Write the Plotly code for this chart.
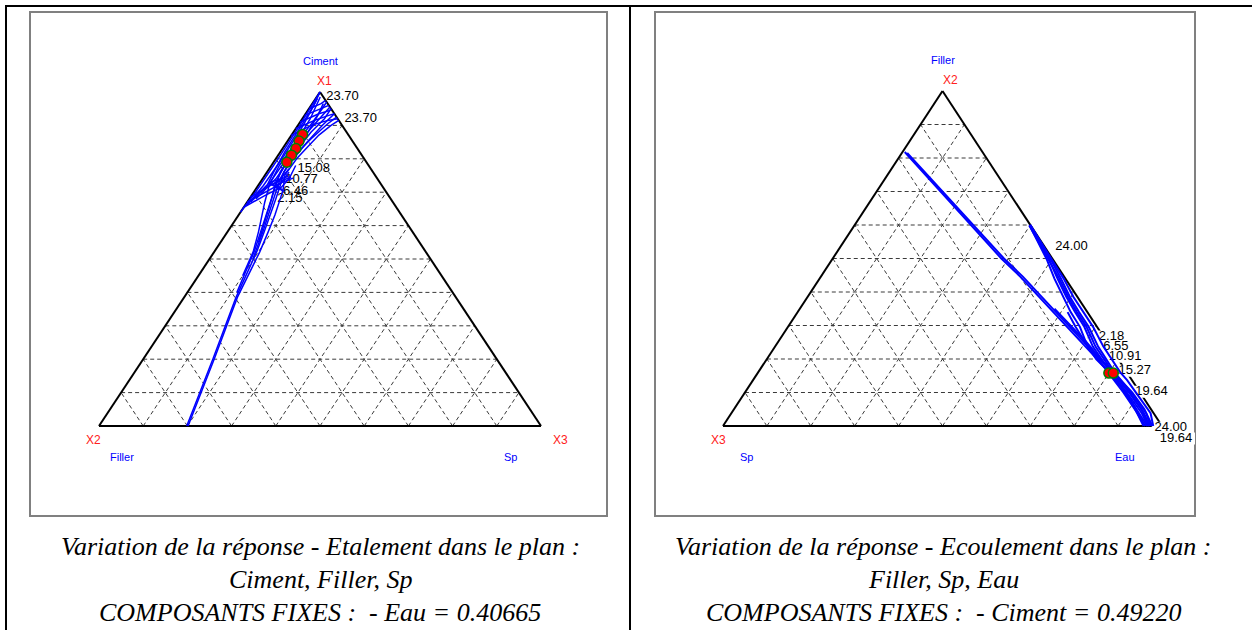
import plotly.graph_objects as go

W, H = 1252, 630

# ---------------------------------------------------------------
# Panel 1 : Etalement  (sommet = Ciment, gauche = Filler, droite = Sp)
# contour curves as (Ciment, Sp) pairs, Filler = 1 - Ciment - Sp
# ---------------------------------------------------------------
etal_vertices = ["X1", "X2", "X3"]
etal_names = ["Ciment", "Filler", "Sp"]

etal_long_a = [(0.000, 0.2015), (0.200, 0.1605), (0.385, 0.1205), (0.522, 0.103), (0.582, 0.092),
               (0.632, 0.082), (0.680, 0.070), (0.707, 0.063), (0.751, 0.045), (0.801, 0.047),
               (0.840, 0.055), (0.871, 0.062), (0.900, 0.075), (0.915, 0.085)]
etal_long_b = [(0.000, 0.1985), (0.200, 0.1575), (0.385, 0.1175), (0.522, 0.096), (0.582, 0.083),
               (0.632, 0.072), (0.680, 0.060), (0.720, 0.050), (0.760, 0.038), (0.801, 0.040),
               (0.850, 0.046), (0.900, 0.055), (0.935, 0.065)]
etal_band_c = [(0.400, 0.112), (0.522, 0.090), (0.582, 0.075), (0.632, 0.062), (0.680, 0.050),
               (0.730, 0.035), (0.780, 0.030), (0.830, 0.035), (0.880, 0.040), (0.920, 0.050),
               (0.950, 0.050)]
etal_band_d = [(0.450, 0.100), (0.522, 0.088), (0.582, 0.070), (0.632, 0.052), (0.670, 0.040),
               (0.720, 0.025), (0.780, 0.018), (0.840, 0.020), (0.900, 0.028), (0.950, 0.030),
               (0.970, 0.030)]
etal_band_e = [(0.500, 0.098), (0.582, 0.080), (0.632, 0.067), (0.690, 0.052), (0.740, 0.040),
               (0.800, 0.035), (0.860, 0.050), (0.905, 0.065), (0.925, 0.075)]
etal_band_f = [(0.550, 0.086), (0.600, 0.072), (0.650, 0.058), (0.700, 0.045), (0.760, 0.030),
               (0.820, 0.028), (0.870, 0.030), (0.920, 0.040), (0.955, 0.045)]
etal_edge_1 = [(0.653, 0.000), (0.690, 0.010), (0.722, 0.020), (0.760, 0.015), (0.820, 0.010),
               (0.900, 0.008), (0.960, 0.006), (1.000, 0.000)]
etal_edge_2 = [(0.640, 0.000), (0.700, 0.004), (0.800, 0.005), (0.900, 0.004), (1.000, 0.000)]
etal_edge_3 = [(0.660, 0.004), (0.720, 0.012), (0.800, 0.014), (0.900, 0.012), (0.980, 0.004)]
etal_edge_4 = [(0.670, 0.008), (0.730, 0.022), (0.790, 0.024), (0.850, 0.022), (0.920, 0.018),
               (0.985, 0.008)]
etal_edge_5 = [(0.680, 0.015), (0.740, 0.030), (0.800, 0.032), (0.860, 0.034), (0.930, 0.030),
               (0.965, 0.025)]
etal_fan_1 = [(0.655, 0.000), (0.690, 0.030), (0.715, 0.055), (0.740, 0.060), (0.780, 0.055)]
etal_fan_2 = [(0.670, 0.000), (0.700, 0.025), (0.725, 0.048), (0.760, 0.050)]
etal_fan_3 = [(0.685, 0.000), (0.710, 0.020), (0.735, 0.040), (0.770, 0.045)]
etal_chevron_1 = [(0.748, 0.055), (0.728, 0.020), (0.708, 0.055)]
etal_chevron_2 = [(0.745, 0.062), (0.725, 0.030), (0.705, 0.062)]
etal_chevron_3 = [(0.742, 0.068), (0.722, 0.040), (0.702, 0.068)]
etal_top_1 = [(0.870, 0.000), (0.900, 0.030), (0.915, 0.060), (0.920, 0.080)]
etal_top_2 = [(0.890, 0.000), (0.915, 0.030), (0.930, 0.055), (0.935, 0.065)]
etal_top_3 = [(0.910, 0.000), (0.935, 0.030), (0.945, 0.050), (0.950, 0.050)]
etal_top_4 = [(0.930, 0.000), (0.950, 0.025), (0.960, 0.040)]
etal_top_5 = [(0.950, 0.000), (0.965, 0.020), (0.975, 0.025)]

etal_contours = [etal_long_a, etal_long_b, etal_band_c, etal_band_d, etal_band_e, etal_band_f,
                 etal_edge_1, etal_edge_2, etal_edge_3, etal_edge_4, etal_edge_5,
                 etal_fan_1, etal_fan_2, etal_fan_3,
                 etal_chevron_1, etal_chevron_2, etal_chevron_3,
                 etal_top_1, etal_top_2, etal_top_3, etal_top_4, etal_top_5]

etal_opt_ciment = [0.873, 0.853, 0.831, 0.811, 0.790]
etal_opt_sp = [0.024, 0.026, 0.030, 0.030, 0.030]

etal_levels = ["23.70", "23.70", "15.08", "10.77", "6.46", "2.15"]
etal_level_x = [0.551, 0.592, 0.486, 0.458, 0.445, 0.432]
etal_level_y = [0.986, 0.921, 0.769, 0.736, 0.702, 0.680]

# ---------------------------------------------------------------
# Panel 2 : Ecoulement  (sommet = Filler, gauche = Sp, droite = Eau)
# contour curves as (Filler, Eau) pairs, Sp = 1 - Filler - Eau
# ---------------------------------------------------------------
ecoul_vertices = ["X2", "X3", ""]
ecoul_names = ["Filler", "Sp", "Eau"]

ecoul_long_1 = [(0.818, 0.005), (0.700, 0.145), (0.600, 0.265), (0.500, 0.384), (0.446, 0.454),
                (0.350, 0.570), (0.250, 0.690), (0.158, 0.803), (0.100, 0.868), (0.050, 0.918),
                (0.000, 0.966)]
ecoul_long_2 = [(0.815, 0.012), (0.700, 0.150), (0.600, 0.271), (0.500, 0.390), (0.446, 0.460),
                (0.350, 0.576), (0.250, 0.697), (0.158, 0.809), (0.100, 0.876), (0.050, 0.928),
                (0.000, 0.972)]
ecoul_long_3 = [(0.350, 0.580), (0.300, 0.642), (0.250, 0.703), (0.200, 0.760), (0.158, 0.812),
                (0.100, 0.882), (0.050, 0.935), (0.000, 0.978)]
ecoul_band_1 = [(0.600, 0.398), (0.550, 0.443), (0.496, 0.490), (0.440, 0.535), (0.386, 0.581),
                (0.340, 0.622), (0.296, 0.665), (0.237, 0.712), (0.190, 0.765), (0.160, 0.797),
                (0.100, 0.862), (0.038, 0.925), (0.000, 0.962)]
ecoul_band_2 = [(0.600, 0.399), (0.550, 0.446), (0.496, 0.495), (0.440, 0.542), (0.386, 0.589),
                (0.340, 0.632), (0.296, 0.675), (0.237, 0.724), (0.190, 0.772), (0.160, 0.803),
                (0.100, 0.870), (0.038, 0.935), (0.000, 0.968)]
ecoul_band_3 = [(0.600, 0.400), (0.550, 0.448), (0.496, 0.499), (0.440, 0.550), (0.386, 0.597),
                (0.340, 0.641), (0.296, 0.685), (0.237, 0.736), (0.190, 0.782), (0.160, 0.812),
                (0.100, 0.880), (0.038, 0.945), (0.000, 0.974)]
ecoul_band_4 = [(0.600, 0.400), (0.550, 0.449), (0.496, 0.502), (0.440, 0.556), (0.386, 0.605),
                (0.340, 0.650), (0.296, 0.695), (0.237, 0.748), (0.190, 0.795), (0.160, 0.825),
                (0.137, 0.852), (0.100, 0.890), (0.038, 0.955), (0.000, 0.980)]
ecoul_band_5 = [(0.598, 0.399), (0.550, 0.444), (0.496, 0.493), (0.440, 0.546), (0.386, 0.593),
                (0.340, 0.636), (0.296, 0.680), (0.237, 0.730), (0.190, 0.778), (0.160, 0.808),
                (0.100, 0.875), (0.038, 0.940), (0.000, 0.971)]
ecoul_band_6 = [(0.340, 0.615), (0.296, 0.655), (0.250, 0.700), (0.200, 0.750), (0.160, 0.800),
                (0.120, 0.845), (0.060, 0.905), (0.000, 0.958)]

ecoul_contours = [ecoul_long_1, ecoul_long_2, ecoul_long_3, ecoul_band_1, ecoul_band_2,
                  ecoul_band_3, ecoul_band_4, ecoul_band_5, ecoul_band_6]

ecoul_opt_filler = [0.158, 0.158]
ecoul_opt_eau = [0.800, 0.810]

ecoul_levels = ["24.00", "2.18", "6.55", "10.91", "15.27", "19.64", "24.00", "19.64"]
ecoul_level_x = [0.794, 0.885, 0.895, 0.916, 0.938, 0.976, 1.020, 1.032]
ecoul_level_y = [0.534, 0.267, 0.237, 0.207, 0.165, 0.102, -0.005, -0.037]
ecoul_masked = [False, True, True, True, True, True, True, True]

captions_left = ["Variation de la réponse - Etalement dans le plan :",
                 "Ciment, Filler, Sp",
                 "COMPOSANTS FIXES :  - Eau = 0.40665"]
captions_right = ["Variation de la réponse - Ecoulement dans le plan :",
                  "Filler, Sp, Eau",
                  "COMPOSANTS FIXES :  - Ciment = 0.49220"]

SANS = "Liberation Sans, Arial, sans-serif"
SERIF = "Liberation Serif, Times New Roman, serif"
BLUE = "#0000ff"


def tern_xy(top, right):
    """Barycentric (top, right) -> panel coordinates: base 0..1, apex at (0.5, 1)."""
    return 0.5 * top + right, top


def px_x(p):
    return p / W


def px_y(p):
    return 1 - p / H


fig = go.Figure()
shapes = []
annotations = []

panels = [
    dict(ax="x", ay="y", box=(30, 12, 607, 516), tri=(99, 541, 426, 92),
         contours=etal_contours, opt=(etal_opt_ciment, etal_opt_sp), lw=1.5,
         levels=(etal_levels, etal_level_x, etal_level_y, [False] * len(etal_levels)),
         vert=etal_vertices, names=etal_names, captions=captions_left, cap_x=320),
    dict(ax="x2", ay="y2", box=(655, 12, 1195, 516), tri=(723, 1162, 426, 91),
         contours=ecoul_contours, opt=(ecoul_opt_filler, ecoul_opt_eau), lw=2.0,
         levels=(ecoul_levels, ecoul_level_x, ecoul_level_y, ecoul_masked),
         vert=ecoul_vertices, names=ecoul_names, captions=captions_right, cap_x=943),
]

layout_axes = {}
for i, p in enumerate(panels):
    bx0, by0, bx1, by1 = p["box"]
    tx0, tx1, base, apex = p["tri"]
    ux = tx1 - tx0
    uy = base - apex
    xname = "xaxis" if i == 0 else "xaxis2"
    yname = "yaxis" if i == 0 else "yaxis2"
    layout_axes[xname] = dict(domain=[px_x(bx0), px_x(bx1)],
                              range=[(bx0 - tx0) / ux, (bx1 - tx0) / ux],
                              visible=False, anchor=p["ay"])
    layout_axes[yname] = dict(domain=[px_y(by1), px_y(by0)],
                              range=[(base - by1) / uy, (base - by0) / uy],
                              visible=False, anchor=p["ax"])

    # frame of the panel
    shapes.append(dict(type="rect", xref="paper", yref="paper",
                       x0=px_x(bx0), x1=px_x(bx1), y0=px_y(by1), y1=px_y(by0),
                       line=dict(color="#808080", width=2), layer="below"))

    # dashed composition grid (steps of 0.1)
    for k in range(1, 10):
        t = k / 10
        segs = [
            (tern_xy(t, 0), tern_xy(t, 1 - t)),
            (tern_xy(0, t), tern_xy(1 - t, t)),
            (tern_xy(0, 1 - t), tern_xy(1 - t, 0)),
        ]
        for (x0, y0), (x1, y1) in segs:
            shapes.append(dict(type="line", xref=p["ax"], yref=p["ay"], x0=x0, y0=y0, x1=x1, y1=y1,
                               line=dict(color="#3a3a3a", width=1, dash="4px,3px"), layer="below"))

    # triangle outline
    corners = [tern_xy(1, 0), tern_xy(0, 0), tern_xy(0, 1)]
    for j in range(3):
        (x0, y0), (x1, y1) = corners[j], corners[(j + 1) % 3]
        shapes.append(dict(type="line", xref=p["ax"], yref=p["ay"], x0=x0, y0=y0, x1=x1, y1=y1,
                           line=dict(color="black", width=2), layer="below"))

    # white plates under the contour values placed on the edge
    labels, lx, ly, masked = p["levels"]
    for txt, x, y, m in zip(labels, lx, ly, masked):
        if m:
            hw = (3.6 * len(txt) + 1) / ux
            hh = 6.0 / uy
            shapes.append(dict(type="rect", xref=p["ax"], yref=p["ay"],
                               x0=x - hw, x1=x + hw, y0=y - hh, y1=y + hh,
                               fillcolor="white", line=dict(width=0), layer="below"))

    # contour values (drawn first so the iso-lines pass over them)
    fig.add_trace(go.Scatter(x=lx, y=ly, text=labels, mode="text", xaxis=p["ax"], yaxis=p["ay"],
                             textfont=dict(family=SANS, size=13, color="black"),
                             textposition="middle center", hoverinfo="skip", cliponaxis=False))

    # iso-response curves
    for curve in p["contours"]:
        xs, ys = zip(*[tern_xy(a, r) for a, r in curve])
        fig.add_trace(go.Scatter(x=list(xs), y=list(ys), mode="lines", xaxis=p["ax"], yaxis=p["ay"],
                                 line=dict(color=BLUE, width=p["lw"]), hoverinfo="skip"))

    # optimum mixtures
    tops, rights = p["opt"]
    xs, ys = zip(*[tern_xy(a, r) for a, r in zip(tops, rights)])
    fig.add_trace(go.Scatter(x=list(xs), y=list(ys), mode="markers", xaxis=p["ax"], yaxis=p["ay"],
                             marker=dict(size=10, color="#ff0000",
                                         line=dict(color="#008000", width=1.5)),
                             hoverinfo="skip"))

    # vertex labels and component names
    vx = [0.51, -0.013, 1.043]
    vy = [1.033, -0.042, -0.042]
    nx = [0.5, 0.052, 0.93]
    ny = [1.092, -0.092, -0.092]
    if i == 1:
        vx = [0.518, -0.011, 1.043]
        nx = [0.5, 0.054, 0.916]
    for j in range(3):
        if p["vert"][j]:
            annotations.append(dict(x=vx[j], y=vy[j], xref=p["ax"], yref=p["ay"], text=p["vert"][j],
                                    showarrow=False, font=dict(family=SANS, size=12, color="#ff2020")))
        annotations.append(dict(x=nx[j], y=ny[j], xref=p["ax"], yref=p["ay"], text=p["names"][j],
                                showarrow=False, font=dict(family=SANS, size=11, color=BLUE)))

    # caption under the panel
    for line_txt, cy in zip(p["captions"], [546, 579, 612]):
        annotations.append(dict(x=px_x(p["cap_x"]), y=px_y(cy), xref="paper", yref="paper",
                                xanchor="center", yanchor="middle",
                                text="<i>" + line_txt + "</i>", showarrow=False,
                                font=dict(family=SERIF, size=26, color="black")))

# table rules around the two cells
rule = dict(color="black", width=2)
shapes.append(dict(type="line", xref="paper", yref="paper", x0=px_x(5), x1=1, y0=px_y(6), y1=px_y(6), line=rule))
shapes.append(dict(type="line", xref="paper", yref="paper", x0=px_x(6), x1=px_x(6), y0=0, y1=px_y(5), line=rule))
shapes.append(dict(type="line", xref="paper", yref="paper", x0=px_x(630), x1=px_x(630), y0=0, y1=px_y(5), line=rule))

fig.update_layout(
    width=W, height=H,
    margin=dict(l=0, r=0, t=0, b=0, pad=0),
    paper_bgcolor="white", plot_bgcolor="white",
    showlegend=False,
    shapes=shapes,
    annotations=annotations,
    **layout_axes,
)

fig.write_html("out.html")
